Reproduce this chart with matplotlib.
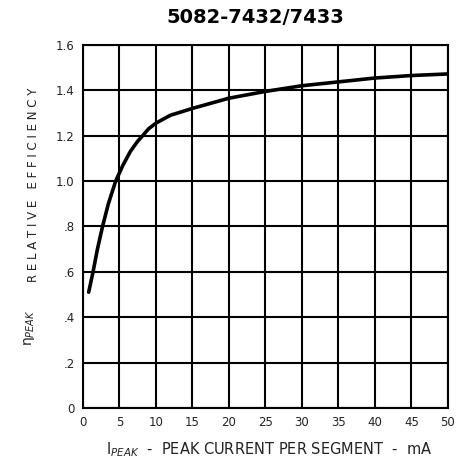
import matplotlib.pyplot as plt

# values
current_ma = [0.8, 1.4, 2.0, 2.7, 3.5, 4.5, 5.5, 6.5, 7.5, 8.2, 9.0, 10, 12, 15, 20, 25, 30, 35, 40, 45, 50]
efficiency = [0.51, 0.60, 0.70, 0.80, 0.90, 1.00, 1.07, 1.13, 1.175, 1.20, 1.23, 1.255, 1.29, 1.32, 1.365, 1.395, 1.42, 1.437, 1.454, 1.465, 1.472]

xticks = [0, 5, 10, 15, 20, 25, 30, 35, 40, 45, 50]
yticks = [0, 0.2, 0.4, 0.6, 0.8, 1.0, 1.2, 1.4, 1.6]
ytick_labels = ["0", ".2", ".4", ".6", ".8", "1.0", "1.2", "1.4", "1.6"]

fig = plt.figure(figsize=(4.68, 4.63), dpi=100)
ax = fig.add_axes([0.177, 0.119, 0.78, 0.784])

ax.plot(current_ma, efficiency, color="black", linewidth=2.6, solid_capstyle="round")

ax.set_xlim(0, 50)
ax.set_ylim(0, 1.6)
ax.set_xticks(xticks)
ax.set_yticks(yticks)
ax.set_yticklabels(ytick_labels)
ax.grid(True, color="black", linewidth=1.5)
ax.tick_params(length=0, labelsize=8.5, colors="#222222", pad=6)
for s in ax.spines.values():
    s.set_linewidth(1.5)

fig.text(0.545, 0.962, "5082-7432/7433", ha="center", va="center",
         fontsize=14, fontweight="bold")
fig.text(0.575, 0.028, "I$_{PEAK}$  -  PEAK CURRENT PER SEGMENT  -  mA", ha="center",
         va="center", fontsize=10.5, color="#222222")
fig.text(0.072, 0.6, "R E L A T I V E   E F F I C I E N C Y", rotation=90,
         ha="center", va="center", fontsize=8.5, color="#222222")
fig.text(0.064, 0.293, "η$_{PEAK}$", rotation=90, ha="center", va="center",
         fontsize=10, color="#222222")

fig.savefig("out.png", dpi=100)
